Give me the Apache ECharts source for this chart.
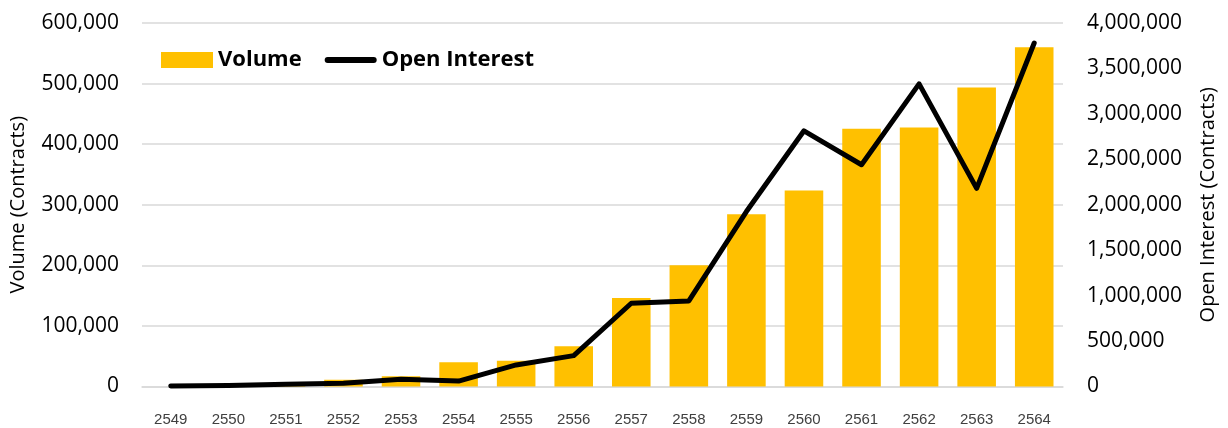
<!DOCTYPE html>
<html lang="en">
	<head>
		<meta charset="utf-8" />
		<title>Volume and Open Interest</title>
		<style>
			html, body { margin: 0; padding: 0; background: #fff; }
			#chart { width: 1228px; height: 428px; }
		</style>
	</head>
	<body>
		<div id="chart"></div>
		<script type="text/javascript" src="https://cdn.jsdelivr.net/npm/echarts@6/dist/echarts.min.js"></script>
		<script type="text/javascript">
			// data
			const years = ['2549', '2550', '2551', '2552', '2553', '2554', '2555', '2556',
							'2557', '2558', '2559', '2560', '2561', '2562', '2563', '2564'];
			const volume = [0, 1500, 5000, 11000, 17000, 40000, 42500, 66500,
							146000, 200000, 284500, 323500, 425500, 427500, 493500, 560000];
			const openInterest = [5000, 12000, 25000, 35000, 80000, 60000, 237000, 340000,
							916000, 942000, 1925000, 2814000, 2440000, 3330000, 2180000, 3780000];
			const leftTicks = { min: 0, max: 600000, interval: 100000 };
			const rightTicks = { min: 0, max: 4000000, interval: 500000 };

			const fmt = function (v) { return v.toLocaleString('en-US'); };

			const chart = echarts.init(document.getElementById('chart'));
			const option = {
				animation: false,
				grid: { left: 142, right: 165, top: 23, bottom: 41.5 },
				legend: {
					left: 161,
					top: 49,
					padding: 0,
					itemWidth: 52,
					itemHeight: 16,
					itemGap: 23,
					textStyle: { fontFamily: 'Open Sans', fontWeight: 'bold', fontSize: 22, color: '#000', padding: [0, 0, 0, 0] },
					data: [
						{ name: 'Volume', icon: 'rect' },
						{ name: 'Open Interest', icon: 'path://M3,0 L49,0 A3,3 0 0 1 49,6 L3,6 A3,3 0 0 1 3,0 Z', itemStyle: { color: '#000' } }
					]
				},
				xAxis: {
					type: 'category',
					data: years,
					axisLine: { lineStyle: { color: '#d9d9d9', width: 1.5 } },
					axisTick: { show: false },
					axisLabel: { margin: 26, fontFamily: 'Liberation Sans', fontSize: 15, color: '#404040' }
				},
				yAxis: [{
					type: 'value',
					min: leftTicks.min,
					max: leftTicks.max,
					interval: leftTicks.interval,
					name: 'Volume (Contracts)',
					nameLocation: 'middle',
					nameGap: 114,
					nameTextStyle: { fontFamily: 'Open Sans', fontSize: 20, color: '#000' },
					axisLabel: { margin: 23, fontFamily: 'Open Sans', fontSize: 21, color: '#000', formatter: fmt },
					splitLine: { lineStyle: { color: '#d9d9d9', width: 1.5 } },
					axisLine: { show: false },
					axisTick: { show: false }
				}, {
					type: 'value',
					min: rightTicks.min,
					max: rightTicks.max,
					interval: rightTicks.interval,
					name: 'Open Interest (Contracts)',
					nameLocation: 'middle',
					nameGap: 135,
					nameTextStyle: { fontFamily: 'Open Sans', fontSize: 20, color: '#000' },
					axisLabel: { margin: 24, fontFamily: 'Open Sans', fontSize: 21, color: '#000', formatter: fmt },
					splitLine: { show: false },
					axisLine: { show: false },
					axisTick: { show: false }
				}],
				series: [{
					name: 'Volume',
					type: 'bar',
					data: volume,
					barCategoryGap: '33%',
					itemStyle: { color: '#ffc000' }
				}, {
					name: 'Open Interest',
					type: 'line',
					yAxisIndex: 1,
					data: openInterest,
					symbol: 'none',
					lineStyle: { color: '#000', width: 5, cap: 'round', join: 'round' },
					itemStyle: { color: '#000' }
				}]
			};
			chart.setOption(option);
			window.onresize = function () {
				chart.resize();
			};
		</script>
	</body>
</html>
